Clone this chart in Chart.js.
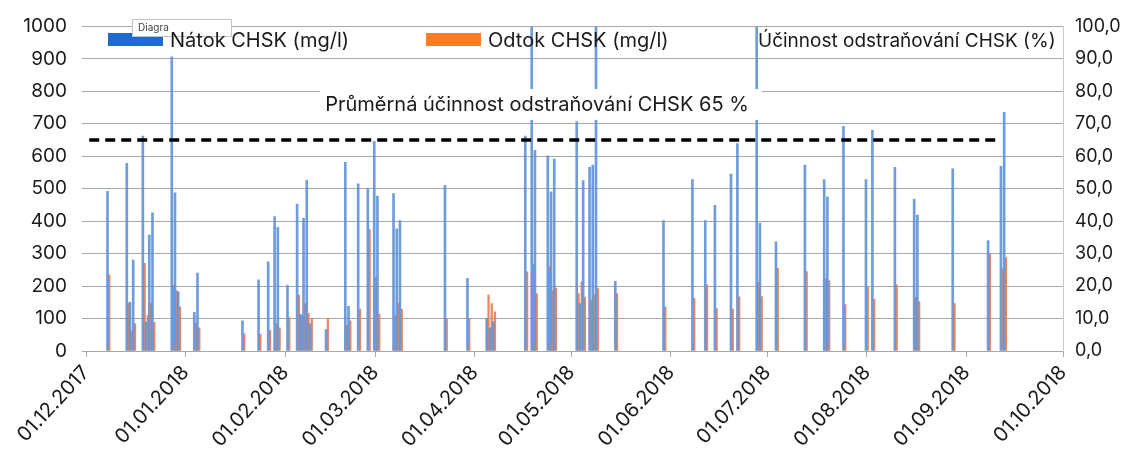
<!DOCTYPE html>
<html>
<head>
<meta charset="utf-8">
<script src="https://cdn.jsdelivr.net/npm/chart.js@4.4.1/dist/chart.umd.min.js"></script>
<style>
  html, body { margin: 0; padding: 0; background: #fff; }
  #wrap { width: 1139px; height: 453px; }
</style>
</head>
<body>
<div id="wrap"><canvas id="chartContainer" width="1139" height="453"></canvas></div>
<script>
// sampling days
const dates = [
  '2017-12-08','2017-12-14','2017-12-15','2017-12-16','2017-12-19','2017-12-20','2017-12-21','2017-12-22','2017-12-28','2017-12-29','2017-12-30',
  '2018-01-04','2018-01-05','2018-01-19','2018-01-24','2018-01-27','2018-01-29','2018-01-30',
  '2018-02-02','2018-02-05','2018-02-06','2018-02-07','2018-02-08','2018-02-09','2018-02-14','2018-02-20','2018-02-21','2018-02-24','2018-02-27',
  '2018-03-01','2018-03-02','2018-03-07','2018-03-08','2018-03-09','2018-03-23','2018-03-30',
  '2018-04-05','2018-04-06','2018-04-07','2018-04-17','2018-04-19','2018-04-20','2018-04-24','2018-04-25','2018-04-26',
  '2018-05-03','2018-05-04','2018-05-05','2018-05-07','2018-05-08','2018-05-09','2018-05-15','2018-05-30',
  '2018-06-08','2018-06-12','2018-06-15','2018-06-20','2018-06-22','2018-06-28','2018-06-29',
  '2018-07-04','2018-07-13','2018-07-19','2018-07-20','2018-07-25',
  '2018-08-01','2018-08-03','2018-08-10','2018-08-16','2018-08-17','2018-08-28',
  '2018-09-08','2018-09-12','2018-09-13'
];
// Nátok CHSK (mg/l)
const natok = [
  492, 578, 150, 280, 662, 90, 357, 426, 906, 487, 182,
  119, 240, 93, 219, 275, 414, 381,
  202, 453, 113, 409, 526, 84, 66, 581, 138, 515, 500,
  646, 477, 485, 376, 402, 510, 224,
  101, 71, 91, 662, 1050, 618, 601, 490, 591,
  707, 146, 525, 566, 573, 1050, 215, 402,
  528, 402, 449, 545, 639, 1050, 394,
  336, 573, 528, 475, 692,
  528, 680, 566, 467, 419, 561,
  340, 569, 735
];
// Odtok CHSK (mg/l)
const odtok = [
  235, 146, 62, 84, 270, 110, 146, 88, 202, 185, 136,
  86, 71, 53, 51, 64, 84, 71,
  103, 172, 110, 146, 115, 100, 101, 79, 93, 129, 374,
  227, 114, 109, 148, 128, 101, 101,
  172, 146, 121, 244, 266, 177, 259, 185, 194,
  177, 213, 165, 157, 173, 194, 177, 136,
  162, 204, 131, 129, 167, 212, 168,
  255, 245, 222, 217, 143,
  197, 160, 204, 165, 152, 146,
  298, 253, 288
];
const monthTicks = ['2017-12-01','2018-01-01','2018-02-01','2018-03-01','2018-04-01','2018-05-01',
  '2018-06-01','2018-07-01','2018-08-01','2018-09-01','2018-10-01'];
const avgDates = ['2017-12-02', '2018-09-10'];
const avgEfficiency = 65;
const seriesNames = ['Nátok CHSK (mg/l)', 'Odtok CHSK (mg/l)', 'Účinnost odstraňování CHSK (%)'];
const avgLabel = 'Průměrná účinnost odstraňování CHSK 65 %';

const start = Date.UTC(2017, 11, 1);
function dayOf(s) {
  const p = s.split('-');
  return (Date.UTC(+p[0], +p[1] - 1, +p[2]) - start) / 86400000;
}
function fmtDay(d) {
  const t = new Date(start + d * 86400000);
  const dd = String(t.getUTCDate()).padStart(2, '0');
  const mm = String(t.getUTCMonth() + 1).padStart(2, '0');
  return dd + '.' + mm + '.' + t.getUTCFullYear();
}

const txt = '#1a1a1a';
const gridCol = '#a8a8a8';
Chart.defaults.font.family = 'Inter';
Chart.defaults.color = txt;

const overlay = {
  id: 'overlay',
  afterDatasetsDraw(chart) {
    const ctx = chart.ctx;
    ctx.save();
    // average label box
    ctx.fillStyle = '#fff';
    ctx.fillRect(320, 89, 442, 31);
    ctx.font = '20px Inter';
    ctx.fillStyle = txt;
    ctx.textAlign = 'center';
    ctx.textBaseline = 'middle';
    ctx.fillText(avgLabel, 537, 105);

    // legend
    ctx.fillStyle = '#1f6bcc';
    ctx.fillRect(108, 33, 55, 13);
    ctx.fillStyle = '#fb7d28';
    ctx.fillRect(426, 33, 55, 13);

    // leftover excel tooltip
    ctx.fillStyle = '#fff';
    ctx.fillRect(132, 19, 100, 18);
    ctx.strokeStyle = '#c4c4c4';
    ctx.lineWidth = 1;
    ctx.strokeRect(132.5, 19.5, 99, 17);
    ctx.font = '10px Inter';
    ctx.fillStyle = '#444';
    ctx.textAlign = 'left';
    ctx.fillText('Diagra', 138, 28);

    ctx.font = '20px Inter';
    ctx.fillStyle = txt;
    ctx.fillText(seriesNames[0], 170, 41);
    ctx.fillText(seriesNames[1], 488, 41);
    ctx.font = '19px Inter';
    ctx.fillText(seriesNames[2], 758, 41);
    ctx.restore();
  }
};

const config = {
  type: 'bar',
  data: {
    datasets: [
      {
        type: 'line',
        label: 'avg',
        data: avgDates.map(d => ({ x: dayOf(d), y: avgEfficiency })),
        yAxisID: 'y2',
        borderColor: '#000',
        borderWidth: 3.5,
        borderDash: [10, 6],
        pointRadius: 0,
        order: 0
      },
      {
        label: seriesNames[0],
        data: dates.map((d, i) => ({ x: dayOf(d), y: natok[i] })),
        backgroundColor: 'rgba(95,145,215,0.9)',
        barThickness: 2,
        clip: 0,
        order: 1
      },
      {
        label: seriesNames[1],
        data: dates.map((d, i) => ({ x: dayOf(d), y: odtok[i] })),
        backgroundColor: 'rgba(232,130,85,0.95)',
        barThickness: 1.6,
        clip: 0,
        order: 1
      }
    ]
  },
  options: {
    responsive: false,
    animation: false,
    devicePixelRatio: 1,
    layout: { padding: { top: 22, left: 0, right: 0, bottom: 0 } },
    plugins: { legend: { display: false }, tooltip: { enabled: false } },
    scales: {
      x: {
        type: 'linear',
        offset: false,
        min: 0,
        max: dayOf(monthTicks[monthTicks.length - 1]),
        afterBuildTicks: s => { s.ticks = monthTicks.map(m => ({ value: dayOf(m) })); },
        afterFit: s => { s.height = 102; },
        ticks: {
          callback: v => fmtDay(v),
          minRotation: 47,
          maxRotation: 47,
          autoSkip: false,
          padding: 4,
          font: { size: 20 },
          color: txt
        },
        grid: { drawOnChartArea: false, tickLength: 6, color: gridCol, offset: false },
        border: { color: gridCol }
      },
      y: {
        position: 'left',
        min: 0,
        max: 1000,
        afterFit: s => { s.width = 86; },
        ticks: { stepSize: 100, padding: 15, font: { size: 19 }, color: txt, callback: v => String(v) },
        grid: { color: gridCol, tickLength: 4 },
        border: { display: false }
      },
      y2: {
        position: 'right',
        min: 0,
        max: 100,
        afterFit: s => { s.width = 76; },
        ticks: {
          stepSize: 10,
          padding: 12,
          font: { size: 18 },
          color: txt,
          callback: v => v.toFixed(1).replace('.', ',')
        },
        grid: { drawOnChartArea: false, drawTicks: false },
        border: { color: '#c8c8c8' }
      }
    }
  },
  plugins: [overlay]
};

window.onload = function () {
  new Chart(document.getElementById('chartContainer'), config);
};
</script>
</body>
</html>
